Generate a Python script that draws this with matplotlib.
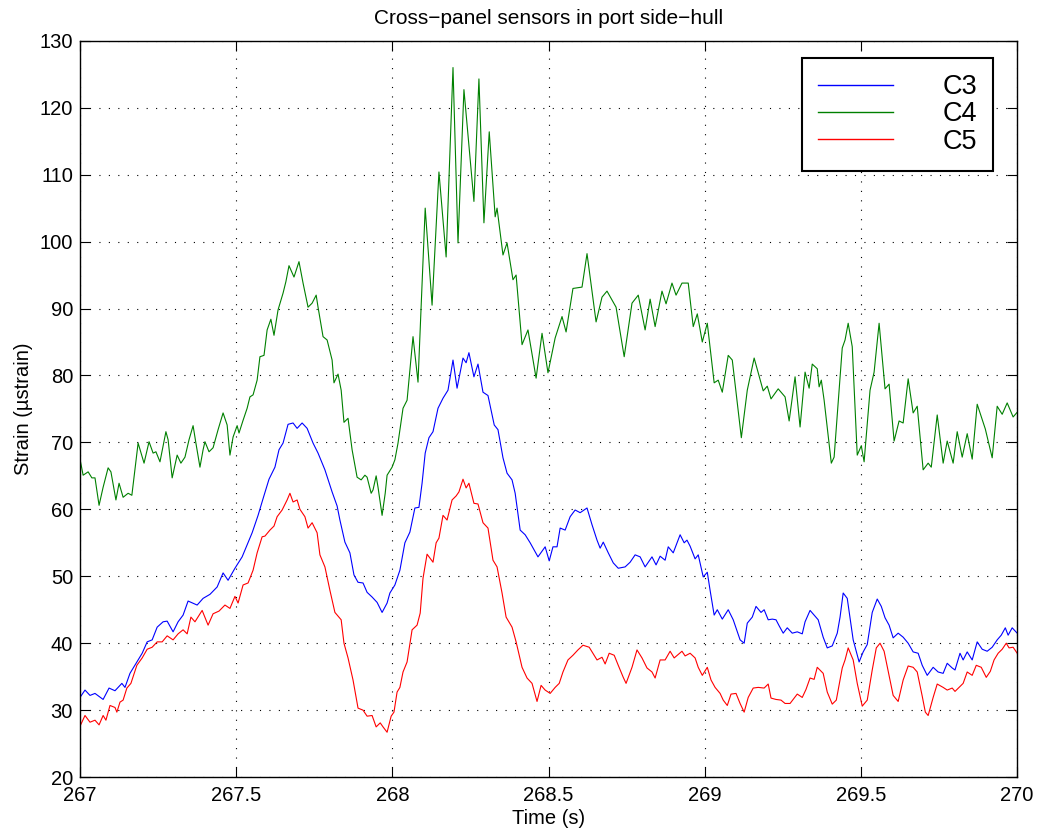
import matplotlib
matplotlib.use("Agg")
import matplotlib.pyplot as plt
import numpy as np

# C4 (green)
t_c4 = [267.000, 267.010, 267.026, 267.038, 267.048, 267.061, 267.074, 267.090, 267.099, 267.115,
        267.125, 267.138, 267.154, 267.166, 267.186, 267.205, 267.221, 267.234, 267.243, 267.256,
        267.275, 267.282, 267.295, 267.311, 267.323, 267.336, 267.349, 267.362, 267.371, 267.384,
        267.394, 267.400, 267.413, 267.426, 267.442, 267.458, 267.471, 267.480, 267.490, 267.503,
        267.509, 267.522, 267.535, 267.544, 267.554, 267.567, 267.576, 267.589, 267.599, 267.611,
        267.621, 267.634, 267.650, 267.659, 267.669, 267.685, 267.701, 267.714, 267.730, 267.743,
        267.756, 267.762, 267.778, 267.791, 267.807, 267.813, 267.826, 267.836, 267.845, 267.858,
        267.871, 267.887, 267.900, 267.912, 267.919, 267.932, 267.938, 267.948, 267.954, 267.967,
        267.977, 267.983, 267.999, 268.008, 268.018, 268.034, 268.047, 268.066, 268.082, 268.105,
        268.127, 268.149, 268.172, 268.194, 268.210, 268.229, 268.261, 268.277, 268.293, 268.310,
        268.329, 268.335, 268.354, 268.367, 268.386, 268.396, 268.415, 268.434, 268.460, 268.479,
        268.498, 268.521, 268.543, 268.556, 268.578, 268.607, 268.623, 268.652, 268.671, 268.687,
        268.716, 268.742, 268.767, 268.787, 268.809, 268.825, 268.841, 268.863, 268.876, 268.895,
        268.908, 268.927, 268.947, 268.963, 268.976, 268.992, 269.008, 269.030, 269.043, 269.056,
        269.075, 269.088, 269.117, 269.136, 269.158, 269.187, 269.200, 269.212, 269.235, 269.257,
        269.270, 269.289, 269.305, 269.321, 269.334, 269.344, 269.360, 269.366, 269.373, 269.382,
        269.405, 269.414, 269.440, 269.449, 269.459, 269.472, 269.488, 269.501, 269.510, 269.529,
        269.542, 269.558, 269.577, 269.590, 269.606, 269.622, 269.635, 269.651, 269.667, 269.680,
        269.699, 269.715, 269.725, 269.744, 269.763, 269.776, 269.795, 269.808, 269.824, 269.840,
        269.856, 269.872, 269.898, 269.920, 269.936, 269.952, 269.968, 269.987, 270.000]
c4 = [67.5, 65.1, 65.6, 64.7, 64.7, 60.6, 63.3, 66.2, 65.6, 61.4,
      63.9, 61.8, 62.4, 62.1, 69.9, 66.9, 70.1, 68.4, 68.6, 67.1,
      71.6, 70.4, 64.7, 68.1, 66.9, 67.8, 70.4, 72.5, 69.9, 66.3,
      68.9, 70.1, 68.6, 69.2, 71.9, 74.4, 72.6, 68.1, 70.8, 72.5,
      71.4, 73.3, 75.1, 76.8, 77.1, 79.3, 82.8, 83.0, 86.8, 88.4,
      86.0, 89.8, 92.3, 94.0, 96.4, 94.7, 97.0, 93.8, 90.2, 90.8,
      92.0, 90.2, 85.8, 85.3, 82.3, 78.9, 80.2, 77.8, 73.0, 73.6,
      68.9, 64.8, 64.4, 65.1, 64.8, 62.4, 62.9, 65.0, 63.3, 59.1,
      62.4, 65.1, 66.3, 67.4, 69.9, 75.1, 76.3, 85.8, 79.0, 105.0,
      90.5, 110.4, 97.7, 126.0, 99.8, 122.7, 106.0, 124.3, 102.8, 116.4,
      103.7, 105.0, 98.0, 99.8, 94.3, 95.0, 84.6, 86.8, 79.6, 86.3,
      80.4, 85.6, 88.8, 86.5, 93.0, 93.2, 98.2, 88.0, 91.7, 92.6,
      90.2, 82.8, 90.8, 92.0, 86.8, 91.4, 87.3, 92.6, 90.7, 93.8,
      92.0, 93.8, 93.8, 87.3, 89.2, 85.0, 87.8, 78.9, 79.3, 77.5,
      83.0, 82.3, 70.7, 77.8, 82.6, 77.7, 78.4, 76.5, 78.0, 76.8,
      73.2, 79.8, 72.3, 80.5, 78.1, 81.7, 81.0, 78.3, 79.3, 76.3,
      66.9, 67.8, 84.1, 85.3, 87.8, 84.3, 68.1, 69.5, 67.1, 77.8,
      80.5, 87.8, 78.0, 78.7, 70.2, 73.2, 72.9, 79.5, 74.4, 75.4,
      65.9, 66.9, 66.3, 74.1, 66.9, 70.2, 66.9, 71.6, 67.8, 71.3,
      67.5, 75.7, 72.0, 67.7, 75.4, 74.2, 75.9, 73.8, 74.5]

# C3 (blue)
t_c3 = [267.000, 267.016, 267.032, 267.048, 267.074, 267.093, 267.112, 267.134, 267.144, 267.160,
        267.182, 267.199, 267.215, 267.231, 267.247, 267.266, 267.279, 267.298, 267.314, 267.330,
        267.346, 267.375, 267.394, 267.416, 267.439, 267.458, 267.474, 267.496, 267.519, 267.535,
        267.551, 267.570, 267.586, 267.605, 267.624, 267.637, 267.650, 267.666, 267.682, 267.695,
        267.711, 267.727, 267.746, 267.762, 267.784, 267.807, 267.823, 267.832, 267.848, 267.864,
        267.877, 267.890, 267.906, 267.919, 267.935, 267.951, 267.967, 267.983, 267.992, 268.008,
        268.024, 268.040, 268.056, 268.072, 268.085, 268.095, 268.105, 268.117, 268.130, 268.146,
        268.162, 268.178, 268.194, 268.207, 268.226, 268.236, 268.245, 268.261, 268.274, 268.290,
        268.306, 268.326, 268.338, 268.354, 268.367, 268.383, 268.393, 268.409, 268.425, 268.441,
        268.454, 268.466, 268.489, 268.502, 268.514, 268.527, 268.537, 268.553, 268.569, 268.585,
        268.601, 268.623, 268.639, 268.655, 268.665, 268.675, 268.691, 268.707, 268.723, 268.745,
        268.761, 268.777, 268.793, 268.809, 268.831, 268.844, 268.857, 268.873, 268.883, 268.899,
        268.921, 268.934, 268.943, 268.953, 268.969, 268.979, 268.995, 269.008, 269.017, 269.030,
        269.040, 269.056, 269.075, 269.091, 269.113, 269.126, 269.136, 269.152, 269.164, 269.180,
        269.190, 269.203, 269.216, 269.228, 269.238, 269.251, 269.264, 269.280, 269.296, 269.312,
        269.321, 269.337, 269.350, 269.363, 269.379, 269.392, 269.408, 269.424, 269.433, 269.443,
        269.456, 269.475, 269.494, 269.507, 269.520, 269.536, 269.552, 269.565, 269.577, 269.590,
        269.603, 269.619, 269.635, 269.651, 269.667, 269.683, 269.696, 269.712, 269.731, 269.747,
        269.763, 269.776, 269.792, 269.801, 269.817, 269.827, 269.840, 269.856, 269.872, 269.888,
        269.904, 269.920, 269.936, 269.949, 269.962, 269.971, 269.984, 270.000]
c3 = [31.9, 33.0, 32.2, 32.5, 31.6, 33.3, 32.9, 34.0, 33.4, 35.5,
      37.2, 38.5, 40.2, 40.5, 42.4, 43.2, 43.3, 41.7, 43.2, 44.2,
      46.3, 45.7, 46.7, 47.3, 48.4, 50.5, 49.4, 51.2, 52.9, 54.7,
      56.5, 59.1, 61.6, 64.5, 66.3, 68.9, 69.9, 72.7, 72.9, 72.1,
      72.9, 72.1, 69.9, 68.4, 65.9, 62.6, 60.5, 58.4, 55.1, 53.5,
      50.2, 49.1, 49.0, 47.6, 46.9, 46.1, 44.6, 46.0, 47.5, 48.7,
      50.9, 55.0, 56.6, 60.2, 60.3, 63.9, 68.4, 70.7, 71.6, 75.1,
      76.6, 77.8, 82.3, 78.1, 82.6, 81.9, 83.4, 79.8, 81.7, 77.5,
      77.0, 72.6, 71.9, 67.7, 65.4, 64.4, 62.4, 56.9, 56.2, 55.0,
      53.9, 52.9, 54.4, 52.3, 54.4, 54.4, 57.2, 56.9, 58.9, 59.9,
      59.5, 60.2, 57.7, 55.4, 54.2, 55.1, 53.5, 52.0, 51.2, 51.4,
      52.1, 53.2, 52.9, 51.4, 52.9, 51.7, 53.0, 52.4, 54.4, 53.5,
      56.2, 55.0, 55.4, 54.5, 52.6, 53.2, 49.9, 50.6, 47.9, 44.2,
      45.0, 43.6, 45.0, 43.5, 40.5, 40.0, 43.0, 43.9, 45.5, 44.6,
      45.0, 43.5, 43.6, 43.5, 42.6, 41.5, 42.3, 41.5, 41.7, 41.4,
      43.2, 44.9, 44.2, 43.5, 40.9, 39.3, 39.6, 41.5, 43.9, 47.5,
      46.7, 40.5, 37.2, 38.7, 39.8, 44.6, 46.6, 45.5, 43.8, 42.7,
      40.8, 41.5, 40.9, 40.0, 38.7, 38.5, 36.7, 35.2, 36.4, 35.7,
      35.5, 37.0, 36.3, 36.0, 38.5, 37.5, 38.7, 37.5, 40.2, 39.1,
      38.8, 39.4, 40.5, 41.2, 42.3, 41.2, 42.3, 41.5]

# C5 (red)
t_c5 = [267.000, 267.016, 267.032, 267.048, 267.061, 267.074, 267.083, 267.096, 267.112, 267.118,
        267.128, 267.138, 267.150, 267.163, 267.182, 267.199, 267.215, 267.231, 267.247, 267.263,
        267.279, 267.298, 267.314, 267.330, 267.343, 267.355, 267.368, 267.391, 267.410, 267.426,
        267.445, 267.464, 267.480, 267.496, 267.506, 267.522, 267.538, 267.554, 267.567, 267.583,
        267.592, 267.608, 267.621, 267.631, 267.647, 267.663, 267.672, 267.682, 267.695, 267.704,
        267.720, 267.730, 267.743, 267.759, 267.768, 267.784, 267.800, 267.816, 267.836, 267.845,
        267.858, 267.874, 267.890, 267.906, 267.919, 267.935, 267.948, 267.961, 267.970, 267.983,
        267.996, 268.005, 268.015, 268.024, 268.034, 268.047, 268.063, 268.079, 268.089, 268.098,
        268.111, 268.130, 268.140, 268.149, 268.162, 268.175, 268.191, 268.204, 268.213, 268.226,
        268.236, 268.245, 268.261, 268.274, 268.290, 268.306, 268.322, 268.335, 268.351, 268.364,
        268.383, 268.396, 268.415, 268.431, 268.447, 268.463, 268.476, 268.489, 268.505, 268.521,
        268.534, 268.546, 268.562, 268.578, 268.594, 268.610, 268.630, 268.642, 268.655, 268.671,
        268.681, 268.694, 268.710, 268.723, 268.739, 268.748, 268.767, 268.783, 268.799, 268.815,
        268.831, 268.841, 268.857, 268.873, 268.889, 268.902, 268.927, 268.937, 268.953, 268.969,
        268.979, 268.992, 269.008, 269.020, 269.033, 269.049, 269.059, 269.072, 269.084, 269.100,
        269.113, 269.126, 269.139, 269.155, 269.171, 269.190, 269.203, 269.212, 269.228, 269.244,
        269.257, 269.273, 269.296, 269.312, 269.324, 269.337, 269.350, 269.360, 269.379, 269.392,
        269.408, 269.421, 269.440, 269.449, 269.459, 269.475, 269.488, 269.504, 269.520, 269.536,
        269.549, 269.561, 269.574, 269.590, 269.603, 269.619, 269.635, 269.651, 269.667, 269.680,
        269.696, 269.706, 269.715, 269.731, 269.744, 269.763, 269.776, 269.792, 269.801, 269.814,
        269.827, 269.840, 269.856, 269.869, 269.885, 269.901, 269.914, 269.926, 269.939, 269.952,
        269.965, 269.974, 269.987, 270.000]
c5 = [27.6, 29.2, 28.2, 28.5, 27.8, 29.2, 28.5, 30.7, 30.4, 29.7,
      31.2, 31.5, 33.3, 34.0, 36.7, 37.8, 39.1, 39.4, 40.2, 40.2,
      41.1, 40.5, 41.4, 42.0, 41.4, 43.9, 43.2, 44.9, 42.7, 44.4,
      44.8, 45.7, 45.2, 47.0, 46.0, 48.7, 49.0, 50.9, 53.5, 55.9,
      56.0, 56.9, 57.5, 58.9, 59.9, 61.4, 62.4, 61.1, 61.4, 60.0,
      58.9, 57.2, 58.0, 56.5, 53.2, 51.4, 47.9, 44.6, 43.5, 40.0,
      37.8, 34.5, 30.3, 30.0, 29.1, 29.2, 27.5, 28.1, 27.5, 26.7,
      29.1, 29.7, 32.7, 33.4, 35.7, 37.2, 42.0, 42.7, 44.5, 49.7,
      53.3, 52.1, 55.0, 55.7, 59.1, 58.4, 61.4, 62.0, 62.6, 64.5,
      63.2, 63.9, 60.9, 60.8, 58.0, 57.2, 52.4, 51.4, 47.5, 43.9,
      42.4, 40.2, 36.4, 34.8, 34.0, 31.3, 33.7, 33.0, 32.5, 33.4,
      34.0, 35.7, 37.5, 38.2, 39.0, 39.7, 39.4, 38.5, 37.5, 37.9,
      36.9, 38.5, 38.2, 36.7, 34.9, 34.0, 36.4, 39.0, 37.8, 36.3,
      35.7, 34.8, 37.5, 37.5, 38.8, 37.8, 38.8, 38.1, 38.5, 37.8,
      36.4, 35.2, 36.4, 34.5, 33.4, 32.5, 31.5, 30.7, 32.4, 32.5,
      31.0, 29.7, 31.9, 33.3, 33.4, 33.3, 33.9, 31.8, 31.6, 31.5,
      31.0, 31.0, 32.4, 31.9, 33.1, 34.8, 34.6, 36.4, 35.5, 32.7,
      30.9, 31.5, 36.3, 37.5, 39.3, 37.5, 34.0, 30.6, 31.5, 36.0,
      39.3, 40.0, 38.8, 35.2, 32.2, 31.3, 34.5, 36.6, 36.4, 35.7,
      32.1, 29.7, 29.2, 31.9, 33.9, 33.4, 33.0, 33.3, 32.8, 33.4,
      34.0, 35.7, 35.2, 36.7, 36.4, 34.9, 35.8, 37.5, 38.5, 39.1,
      40.0, 39.3, 39.4, 38.5]

xticks = [267, 267.5, 268, 268.5, 269, 269.5, 270]
xticklabels = ["267", "267.5", "268", "268.5", "269", "269.5", "270"]
yticks = list(range(20, 131, 10))

plt.rcParams['font.family'] = ['Liberation Sans', 'DejaVu Sans']

fig = plt.figure(figsize=(10.39, 8.32), dpi=100)
ax = fig.add_axes([0.077, 0.066, 0.902, 0.885])

ax.plot(t_c3, c3, color='#0000ff', lw=0.8, label='C3')
ax.plot(t_c4, c4, color='#008000', lw=0.8, label='C4')
ax.plot(t_c5, c5, color='#ff0000', lw=0.8, label='C5')

ax.set_xlim(267, 270)
ax.set_ylim(20, 130)
ax.set_xticks(xticks)
ax.set_xticklabels(xticklabels)
ax.set_yticks(yticks)
ax.tick_params(direction='in', top=True, right=True, length=7, width=0.8,
               labelsize=14.5)
ax.tick_params(axis='x', pad=6.5)
ax.tick_params(axis='y', pad=5)
ax.grid(True, linestyle=(0, (1, 7.5)), color='black', linewidth=0.8)
for s in ax.spines.values():
    s.set_linewidth(1.0)

ax.set_title("Cross\u2212panel sensors in port side\u2212hull", fontsize=15, pad=12)
ax.set_xlabel("Time (s)", fontsize=14.5, labelpad=3)
ax.set_ylabel("Strain (\u00b5strain)", fontsize=14.5, labelpad=5)

leg = ax.legend(loc='upper right', bbox_to_anchor=(0.9744, 0.9769), fontsize=19.5,
                handlelength=2.78, handletextpad=1.8, labelspacing=0.05,
                borderpad=0.6, fancybox=False, framealpha=1, edgecolor='black',
                borderaxespad=0)
leg.get_frame().set_linewidth(1.5)
for line in leg.get_lines():
    line.set_linewidth(1.0)

fig.savefig("out.png", dpi=100)
